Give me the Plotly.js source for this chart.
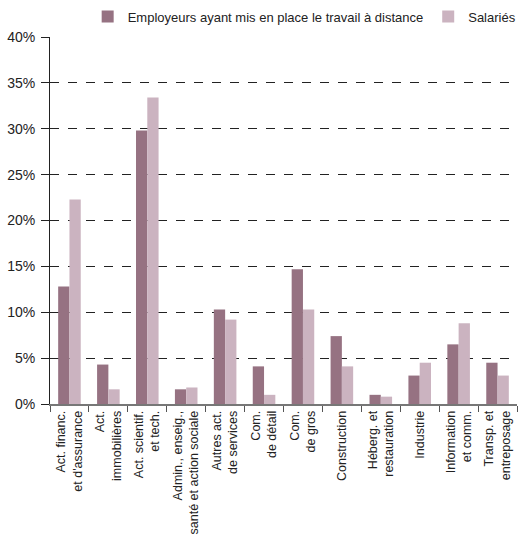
<!DOCTYPE html>
<html><head><meta charset="utf-8">
<script src="https://cdn.plot.ly/plotly-3.0.1.min.js"></script>
<style>html,body{margin:0;padding:0;background:#fff}</style>
</head><body><div id="chart" style="width:523px;height:536px"></div>
<script>
const categories = [
  "Act. financ.<br>et d'assurance",
  "Act.<br>immobilières",
  "Act. scientif.<br>et tech.",
  "Admin., enseig.,<br>santé et action sociale",
  "Autres act.<br>de services",
  "Com.<br>de détail",
  "Com.<br>de gros",
  "Construction",
  "Héberg. et<br>restauration",
  "Industrie",
  "Information<br>et comm.",
  "Transp. et<br>entreposage"
];
const employeurs = [12.8, 4.3, 29.8, 1.6, 10.3, 4.1, 14.7, 7.4, 1.0, 3.1, 6.5, 4.5];
const salaries   = [22.3, 1.6, 33.4, 1.8, 9.2, 1.0, 10.3, 4.1, 0.8, 4.5, 8.8, 3.1];
const yTicks = [0, 5, 10, 15, 20, 25, 30, 35, 40];
const yTickText = ["0%", "5%", "10%", "15%", "20%", "25%", "30%", "35%", "40%"];

const font = "'Liberation Sans', Arial, sans-serif";
const data = [
  {type: 'bar', name: 'Employeurs ayant mis en place le travail à distance', x: categories, y: employeurs, marker: {color: '#967282'}},
  {type: 'bar', name: 'Salariés', x: categories, y: salaries, marker: {color: '#cbb3c0'}}
];
const layout = {
  width: 523, height: 536,
  margin: {l: 50, r: 1, t: 35, b: 132},
  barmode: 'group', bargap: 0.42, bargroupgap: 0,
  font: {family: font, size: 12, color: '#222'},
  paper_bgcolor: '#fff', plot_bgcolor: '#fff',
  showlegend: true,
  legend: {orientation: 'h', x: 1.01, xanchor: 'right', y: 1.015, yanchor: 'bottom', font: {size: 13}, itemwidth: 30, traceorder: 'normal'},
  xaxis: {
    tickangle: -90, ticks: 'outside', ticklen: 6, tickcolor: '#555', tickson: 'boundaries',
    showline: true, linecolor: '#777', linewidth: 1.5, showgrid: false, zeroline: false,
    tickfont: {size: 12.5, family: font}
  },
  yaxis: {
    range: [0, 40], tickvals: yTicks, ticktext: yTickText,
    ticks: 'outside', ticklen: 8, tickcolor: '#222', ticklabelstandoff: 3,
    showline: true, linecolor: '#222', linewidth: 1,
    showgrid: true, gridcolor: '#222', griddash: 'dash', gridwidth: 1,
    zeroline: false, tickfont: {size: 14, family: font}
  }
};
Plotly.newPlot('chart', data, layout, {displayModeBar: false});
</script></body></html>
